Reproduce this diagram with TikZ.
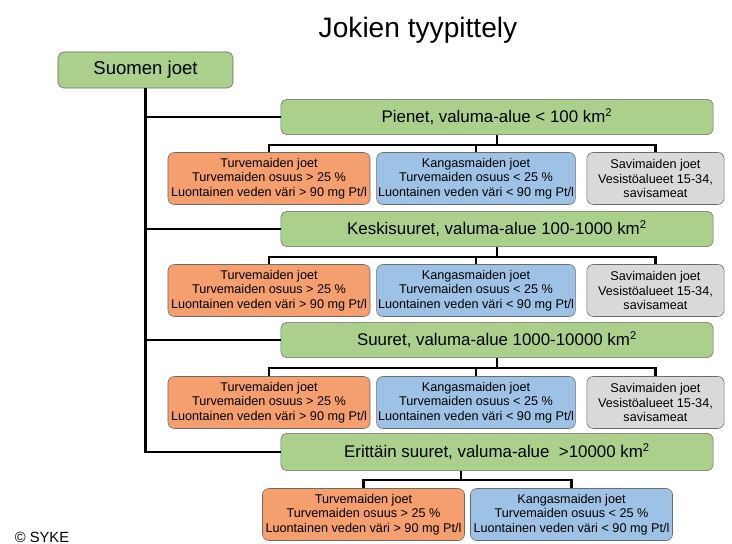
\documentclass[tikz,border=0pt]{standalone}
\usepackage{fontspec}
\setmainfont{Liberation Sans}
\usepackage{xcolor}
\definecolor{levelGreen}{HTML}{ABD08C}
\definecolor{peatOrange}{HTML}{F59E6E}
\definecolor{mineralBlue}{HTML}{9EC2E6}
\definecolor{clayGray}{HTML}{D9D9D9}
\definecolor{edgeGray}{HTML}{6B6B6B}
\usepackage{tikz}
\usetikzlibrary{positioning,calc}
\tikzset{%
  levelBox/.style={%
    rectangle,
    rounded corners=4pt,
    draw=edgeGray,
    fill=levelGreen,
    minimum width=10.8cm,
    minimum height=0.88cm,
    font=\fontsize{12}{14}\selectfont,
    align=center
  },
  rootBox/.style={%
    levelBox,
    minimum width=4.375cm,
    minimum height=0.9cm,
    font=\fontsize{13.2}{15}\selectfont
  },
  typeBox/.style={%
    rectangle,
    rounded corners=4.5pt,
    draw=edgeGray,
    minimum height=1.3cm,
    inner sep=1pt,
    font=\fontsize{9}{10.2}\selectfont,
    align=center
  },
  peatBox/.style={typeBox, fill=peatOrange, minimum width=5.05cm},
  mineralBox/.style={typeBox, fill=mineralBlue, minimum width=4.78cm},
  clayBox/.style={typeBox, fill=clayGray, minimum width=3.43cm},
  treeLine/.style={%
    line width=1.8pt,
    color=black
  }
}
\newcommand{\peatText}{Turvemaiden joet\\Turvemaiden osuus > 25 \%\\Luontainen veden väri > 90 mg Pt/l}
\newcommand{\mineralText}{Kangasmaiden joet\\Turvemaiden osuus < 25 \%\\Luontainen veden väri < 90 mg Pt/l}
\newcommand{\clayText}{Savimaiden joet\\Vesistöalueet 15-34,\\savisameat}
\begin{document}
\begin{tikzpicture}[x=0.025cm, y=-0.025cm]
            \useasboundingbox (0,0) rectangle (732,544);
            \node[font=\fontsize{20}{24}\selectfont] (title) at (418,30) {Jokien tyypittely};
            \node[rootBox] (root) at (145.5,70) {Suomen joet};

            \node[levelBox] (pienet) at (497,117) {Pienet, valuma-alue < 100 km\textsuperscript{2}};
            \node[levelBox] (keski) at (497,229) {Keskisuuret, valuma-alue 100-1000 km\textsuperscript{2}};
            \node[levelBox] (suuret) at (497,340) {Suuret, valuma-alue 1000-10000 km\textsuperscript{2}};
            \node[levelBox, minimum height=0.93cm] (erittain) at (497,452) {Erittäin suuret, valuma-alue \ >10000 km\textsuperscript{2}};

            % trunk and branches
            \draw[treeLine] (root.south) |- (erittain.west);
            \foreach \lv in {pienet,keski,suuret}
              \draw[treeLine] (root.south |- \lv.west) -- (\lv.west);

            % three soil types under the first three size classes
            \foreach \lv/\y in {pienet/178.5,keski/290.5,suuret/402.5} {
              \node[peatBox] (peat-\lv) at (269,\y) {\peatText};
              \node[mineralBox] (mineral-\lv) at (476,\y) {\mineralText};
              \node[clayBox] (clay-\lv) at (655.5,\y) {\clayText};
              \draw[treeLine] (\lv.south) -- ++(0,10) coordinate (fork-\lv);
              \draw[treeLine] (peat-\lv.north) |- (fork-\lv) -| (clay-\lv.north);
              \draw[treeLine] (fork-\lv -| mineral-\lv.north) -- (mineral-\lv.north);
            }

            % largest rivers
            \node[peatBox] (peat-erittain) at (363.5,514.5) {\peatText};
            \node[mineralBox, minimum width=5.05cm] (mineral-erittain) at (571.5,514.5) {\mineralText};
            \coordinate (fork-erittain) at (461,480);
            \draw[treeLine] (fork-erittain |- erittain.south) -- (fork-erittain);
            \draw[treeLine] (peat-erittain.north) |- (fork-erittain) -| (mineral-erittain.north);

            \node[font=\fontsize{10.5}{12}\selectfont] (syke) at (42,537) {© SYKE};
        \end{tikzpicture}
\end{document}
